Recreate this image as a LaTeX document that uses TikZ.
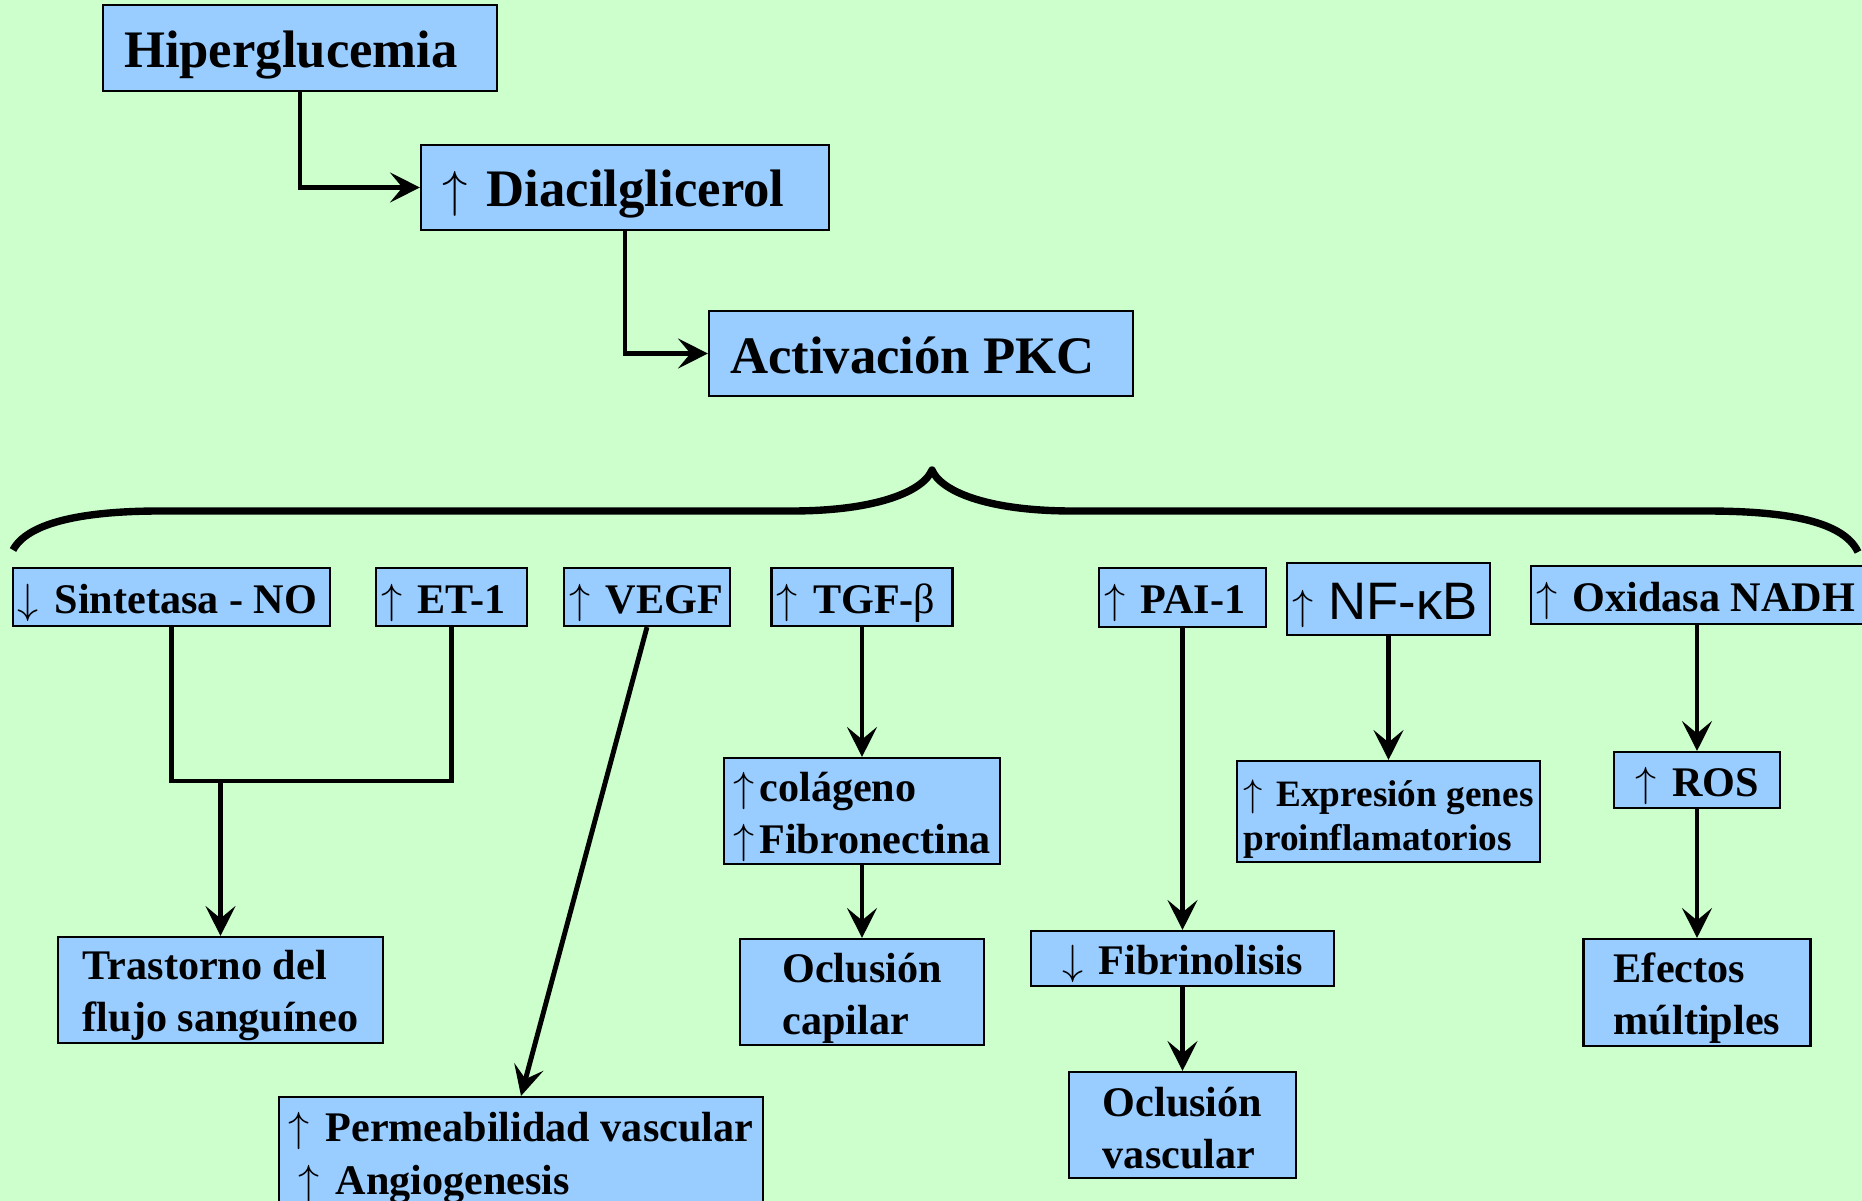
\documentclass[tikz,border=0pt]{standalone}
\usepackage{fontspec}
\setmainfont{Liberation Serif}
\newfontfamily\arialnf{Liberation Sans}
\usetikzlibrary{arrows.meta}

\definecolor{fondo}{HTML}{CCFFCC}
\definecolor{azulcaja}{HTML}{99CCFF}

\newcommand{\sube}{$\uparrow$\hspace{0.12em}}
\newcommand{\baja}{$\downarrow$\hspace{0.12em}}
\newcommand{\tope}[1][0.41cm]{\rule{0pt}{#1}}

\tikzset{
  caja/.style={draw=black, fill=azulcaja, line width=0.6pt, inner sep=0pt, align=flush left,
    font=\bfseries\fontsize{12}{14.8}\selectfont},
  grande/.style={caja, inner xsep=0.21cm, text height=0.39cm, text depth=0cm,
    font=\bfseries\fontsize{15}{18}\selectfont},
  fila/.style={caja, inner xsep=0.05cm, text height=0.32cm, text depth=0cm},
  bloque/.style={caja},
  flecha/.style={line width=1.4pt, -{Stealth[length=8.5pt, width=8.5pt, inset=3.5pt]}},
  linea/.style={line width=1.4pt}
}

\begin{document}
\begin{tikzpicture}[x=1cm, y=1cm]
\path[fill=fondo, use as bounding box] (0,0) rectangle (18.62,-12.01);

% top chain
\node[grande, text width=3.52cm, minimum height=0.86cm] (hiper) at (3.00,-0.48) {Hiperglucemia};
\node[grande, text width=3.66cm, minimum height=0.85cm] (diacil) at (6.25,-1.875) {\sube{} Diacilglicerol};
\node[grande, text width=3.82cm, minimum height=0.85cm] (pkc) at (9.21,-3.535) {Activación PKC};

\draw[flecha] (hiper.south) |- (diacil.west);
\draw[flecha] (diacil.south) |- (pkc.west);

% brace under PKC
\draw[line width=2.1pt, line join=round] (0.13,-5.50) .. controls (0.30,-5.18) and (1.00,-5.11) .. (1.60,-5.11)
  -- (7.91,-5.11) .. controls (8.80,-5.11) and (9.24,-4.90) .. (9.32,-4.70)
  .. controls (9.40,-4.90) and (9.84,-5.11) .. (10.73,-5.11)
  -- (17.05,-5.11) .. controls (17.75,-5.11) and (18.42,-5.18) .. (18.58,-5.52);

% first row
\node[fila, text width=3.07cm, minimum height=0.58cm] (sint) at (1.715,-5.97) {\baja{} Sintetasa - NO};
\node[fila, text width=1.41cm, minimum height=0.58cm] (et) at (4.515,-5.97) {\sube{} ET-1};
\node[fila, text width=1.56cm, minimum height=0.58cm] (vegf) at (6.47,-5.97) {\sube{} VEGF};
\node[fila, text width=1.71cm, minimum height=0.58cm] (tgf) at (8.62,-5.97) {\sube{} TGF-{\mdseries β}};
\node[fila, text width=1.57cm, minimum height=0.59cm] (pai) at (11.825,-5.975) {\sube{} PAI-1};
\node[fila, text width=1.93cm, minimum height=0.72cm, text height=0.40cm] (nfkb) at (13.885,-5.99)
  {\sube{} {\arialnf\mdseries\fontsize{15}{18}\selectfont NF-κB}};
\node[fila, text width=3.22cm, minimum height=0.58cm] (nadh) at (16.97,-5.95) {\sube{} Oxidasa NADH};

% second level
\node[bloque, minimum width=3.25cm, minimum height=1.06cm] (trast) at (2.205,-9.90) {\tope Trastorno del\\flujo sanguíneo};
\node[bloque, minimum width=4.84cm, minimum height=1.22cm] (perm) at (5.21,-11.58)
  {\sube{} Permeabilidad vascular\\\hspace{0.1cm}\sube{} Angiogenesis};
\node[bloque, minimum width=2.76cm, minimum height=1.06cm] (colag) at (8.62,-8.11) {\tope\sube colágeno\\\sube Fibronectina};
\node[bloque, minimum width=2.44cm, minimum height=1.06cm] (capilar) at (8.62,-9.92) {\tope Oclusión\\capilar};
\node[bloque, minimum width=3.03cm, minimum height=0.55cm, text height=0.32cm, text depth=0cm] (fibrino) at (11.825,-9.585)
  {\baja{} Fibrinolisis};
\node[bloque, minimum width=2.27cm, minimum height=1.06cm] (vascular) at (11.825,-11.25) {\tope[0.36cm]Oclusión\\vascular};
\node[bloque, minimum width=3.03cm, minimum height=1.01cm, font=\bfseries\fontsize{10.6}{12.5}\selectfont] (genes)
  at (13.885,-8.115) {\tope[0.42cm]\sube{} Expresión genes\\proinflamatorios};
\node[bloque, minimum width=1.66cm, minimum height=0.56cm, text height=0.32cm, text depth=0cm] (ros) at (16.97,-7.80) {\sube{} ROS};
\node[bloque, minimum width=2.27cm, minimum height=1.07cm] (efectos) at (16.97,-9.925) {\tope Efectos\\múltiples};

% connectors
\coordinate (union) at (2.205,-7.81);
\draw[linea] (sint.south) |- (union) -| (et.south);
\draw[flecha] (union) -- (trast.north);
\draw[flecha] (vegf.south) -- (perm.north);
\draw[flecha] (tgf.south) -- (colag.north);
\draw[flecha] (colag.south) -- (capilar.north);
\draw[flecha] (pai.south) -- (fibrino.north);
\draw[flecha] (fibrino.south) -- (vascular.north);
\draw[flecha] (nfkb.south) -- (genes.north);
\draw[flecha] (nadh.south) -- (ros.north);
\draw[flecha] (ros.south) -- (efectos.north);
\end{tikzpicture}
\end{document}
